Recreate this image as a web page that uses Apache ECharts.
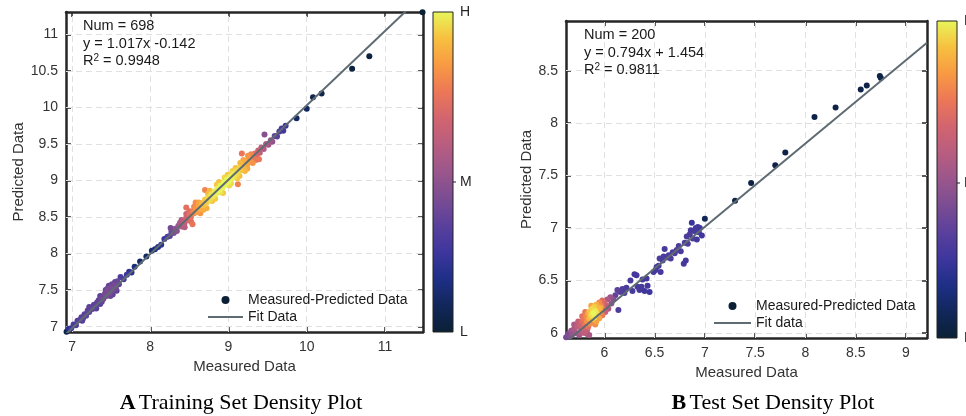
<!DOCTYPE html>
<html>
<head>
<meta charset="utf-8">
<title>Density plots</title>
<script src="https://cdn.jsdelivr.net/npm/echarts@6/dist/echarts.min.js"></script>
<style>
    html, body { margin: 0; padding: 0; background: #fff; }
    #chart { width: 966px; height: 416px; }
</style>
</head>
<body>
<div id="chart"></div>
<script>
// training set: measured, predicted, point density (0 sparse .. 1 densest)
var trainMeasured = [6.93,6.96,6.99,7.02,7.05,7.07,7.10,7.12,7.13,7.14,7.16,7.18,7.20,7.22,7.22,7.24,7.26,7.28,7.30,7.31,
    7.32,7.34,7.36,7.36,7.38,7.40,7.42,7.43,7.44,7.46,7.47,7.48,7.49,7.50,7.52,7.52,7.54,7.55,7.56,7.57,
    7.58,7.60,7.62,7.66,7.70,7.73,7.76,7.80,7.87,7.95,8.02,8.06,8.10,8.14,8.18,8.22,8.25,8.26,8.27,8.30,
    8.32,8.34,8.36,8.38,8.40,8.42,8.44,8.44,8.46,8.46,8.46,8.48,8.50,8.52,8.52,8.54,8.54,8.56,8.56,8.58,
    8.60,8.62,8.62,8.64,8.66,8.68,8.68,8.70,8.70,8.72,8.74,8.74,8.76,8.78,8.79,8.80,8.82,8.84,8.85,8.86,
    8.88,8.90,8.90,8.92,8.94,8.95,8.96,8.98,9.00,9.01,9.02,9.04,9.05,9.06,9.08,9.10,9.11,9.12,9.12,9.14,
    9.15,9.16,9.17,9.18,9.20,9.21,9.22,9.24,9.25,9.26,9.28,9.30,9.31,9.32,9.34,9.36,9.38,9.39,9.40,9.42,
    9.45,9.46,9.48,9.51,9.54,9.56,9.59,9.62,9.65,9.68,9.70,9.73,9.87,10.00,10.08,10.19,10.58,10.80,11.48,
    8.58,8.64,8.72,8.76,8.83,8.88,8.93,8.99,9.03,9.09,9.14,9.19,9.24,9.29,9.35,8.50,8.40,7.38,7.45,7.51];
var trainPredicted = [6.93,6.97,6.98,7.03,7.02,7.08,7.09,7.13,7.08,7.11,7.17,7.15,7.22,7.20,7.27,7.26,7.24,7.30,7.27,7.25,
    7.33,7.36,7.31,7.42,7.40,7.38,7.45,7.50,7.42,7.49,7.56,7.46,7.42,7.53,7.50,7.44,7.57,7.61,7.53,7.49,
    7.62,7.58,7.68,7.65,7.71,7.75,7.74,7.82,7.89,7.96,8.04,8.06,8.09,8.12,8.20,8.23,8.24,8.35,8.30,8.28,
    8.34,8.31,8.38,8.42,8.37,8.45,8.42,8.36,8.49,8.54,8.63,8.46,8.53,8.50,8.44,8.58,8.40,8.55,8.64,8.62,
    8.57,8.65,8.70,8.61,8.69,8.66,8.60,8.74,8.87,8.70,8.77,8.82,8.73,8.81,8.72,8.78,8.85,8.82,8.94,8.89,
    8.86,8.93,8.84,8.90,8.97,9.04,8.94,9.01,8.98,8.93,9.05,9.02,9.13,9.09,9.06,9.13,9.03,9.10,8.95,9.17,
    9.24,9.14,9.37,9.21,9.18,9.13,9.25,9.22,9.34,9.29,9.26,9.33,9.24,9.30,9.37,9.34,9.41,9.29,9.38,9.45,
    9.43,9.63,9.50,9.49,9.55,9.53,9.61,9.60,9.67,9.71,9.68,9.75,9.85,9.98,10.14,10.19,10.53,10.70,11.30,
    8.70,8.55,8.62,8.86,8.75,8.98,8.83,9.08,8.96,9.17,9.06,9.28,9.16,9.36,9.28,8.58,8.46,7.34,7.52,7.58];
var trainDensity = [0.05,0.20,0.25,0.30,0.30,0.32,0.33,0.33,0.32,0.34,0.34,0.35,0.35,0.36,0.33,0.35,0.36,0.35,0.34,0.32,
    0.35,0.36,0.33,0.33,0.38,0.40,0.40,0.38,0.42,0.42,0.36,0.42,0.37,0.42,0.41,0.35,0.40,0.36,0.40,0.35,
    0.38,0.36,0.30,0.28,0.25,0.22,0.20,0.15,0.10,0.10,0.12,0.15,0.18,0.20,0.25,0.30,0.33,0.40,0.38,0.42,
    0.46,0.45,0.50,0.55,0.55,0.60,0.62,0.58,0.66,0.65,0.72,0.68,0.72,0.74,0.70,0.76,0.74,0.80,0.78,0.82,
    0.84,0.86,0.85,0.88,0.90,0.92,0.87,0.93,0.78,0.94,0.95,0.90,0.96,0.97,0.92,0.98,0.98,0.99,0.93,0.99,
    1.00,1.00,0.96,1.00,1.00,0.95,1.00,1.00,1.00,0.96,0.99,0.99,0.94,0.98,0.97,0.96,0.93,0.95,0.78,0.94,
    0.90,0.92,0.75,0.90,0.88,0.90,0.87,0.85,0.82,0.83,0.80,0.77,0.82,0.74,0.70,0.68,0.64,0.75,0.62,0.60,
    0.56,0.45,0.55,0.52,0.50,0.47,0.35,0.32,0.30,0.28,0.27,0.25,0.10,0.10,0.05,0.05,0.02,0.02,0.00,
    0.80,0.82,0.88,0.90,0.93,0.92,0.93,0.93,0.95,0.92,0.91,0.86,0.86,0.78,0.74,0.70,0.55,0.36,0.40,0.38];

// test set
var testMeasured = [5.62,5.64,5.66,5.67,5.69,5.70,5.70,5.72,5.73,5.74,5.75,5.76,5.76,5.77,5.78,5.78,5.79,5.80,5.80,5.81,
    5.82,5.83,5.83,5.83,5.84,5.84,5.85,5.85,5.86,5.86,5.87,5.88,5.88,5.89,5.90,5.90,5.91,5.92,5.92,5.93,
    5.94,5.95,5.95,5.96,5.97,5.98,5.98,5.99,6.00,6.01,6.02,6.03,6.04,6.06,6.07,6.09,
    6.11,6.13,6.14,6.16,6.18,6.20,6.22,6.26,6.28,6.30,6.32,6.33,6.35,6.37,6.38,6.40,6.42,6.43,6.45,6.49,
    6.51,6.52,6.54,6.55,6.56,6.58,6.59,6.60,6.62,6.64,6.66,6.68,6.70,6.72,6.74,6.76,6.79,6.81,6.80,6.82,
    6.83,6.85,6.86,6.87,6.88,6.90,6.91,6.92,6.94,6.95,6.97,6.93,7.00,7.30,7.46,7.70,7.80,8.09,8.30,8.55,
    8.61,8.74,8.75,9.21,5.87,5.91,5.81,5.96];
var testPredicted = [5.96,5.99,5.97,6.02,5.99,6.04,6.08,6.00,6.06,6.11,5.98,6.08,6.00,6.02,6.11,6.16,6.05,6.13,6.00,6.08,
    6.16,6.03,6.11,5.99,6.19,6.06,6.14,5.98,6.21,6.09,6.17,6.23,6.13,6.19,6.25,6.15,6.21,6.11,6.27,6.18,
    6.23,6.29,6.14,6.20,6.26,6.31,6.17,6.23,6.29,6.20,6.26,6.32,6.23,6.34,6.28,6.32,
    6.36,6.41,6.22,6.39,6.42,6.38,6.43,6.50,6.40,6.56,6.55,6.44,6.41,6.44,6.51,6.40,6.52,6.45,6.39,6.58,
    6.60,6.63,6.64,6.71,6.58,6.69,6.73,6.80,6.72,6.74,6.71,6.77,6.76,6.79,6.83,6.78,6.66,6.69,6.86,6.92,
    6.85,6.94,6.98,7.05,6.90,6.97,7.00,6.89,6.96,7.00,6.93,7.01,7.09,7.26,7.43,7.60,7.72,8.06,8.15,8.32,
    8.36,8.45,8.43,8.97,6.26,6.08,6.20,6.24];
var testDensity = [0.40,0.42,0.45,0.50,0.50,0.55,0.55,0.52,0.60,0.62,0.50,0.65,0.55,0.60,0.70,0.72,0.68,0.75,0.60,0.75,
    0.80,0.62,0.82,0.55,0.88,0.72,0.90,0.55,0.93,0.80,0.96,0.95,0.92,1.00,0.93,0.98,0.98,0.85,0.88,0.95,
    0.90,0.80,0.85,0.85,0.78,0.70,0.75,0.70,0.65,0.62,0.60,0.55,0.55,0.50,0.48,0.45,
    0.36,0.34,0.30,0.32,0.30,0.30,0.29,0.28,0.28,0.27,0.27,0.28,0.27,0.28,0.27,0.26,0.27,0.27,0.25,0.28,
    0.28,0.28,0.28,0.29,0.28,0.29,0.29,0.28,0.30,0.30,0.30,0.30,0.30,0.30,0.30,0.29,0.27,0.27,0.30,0.30,
    0.30,0.29,0.28,0.24,0.29,0.28,0.27,0.27,0.27,0.26,0.26,0.26,0.08,0.04,0.04,0.04,0.04,0.04,0.04,0.04,
    0.04,0.04,0.04,0.02,0.85,0.80,0.75,0.88];

// fitted lines, end points across each plot
var trainFitX = [6.923, 11.486];
var trainFitY = [6.899, 11.539];
var testFitX = [5.619, 9.209];
var testFitY = [5.915, 8.766];

// tick labels
var trainXTicks = [7, 8, 9, 10, 11];
var trainYTicks = [7, 7.5, 8, 8.5, 9, 9.5, 10, 10.5, 11];
var testXTicks = [6, 6.5, 7, 7.5, 8, 8.5, 9];
var testYTicks = [6, 6.5, 7, 7.5, 8, 8.5];

var densityColors = ['#0b2035', '#11275a', '#1e2f86', '#3d369d', '#5a409c', '#7a4c93', '#9a568c',
    '#b85d80', '#d2646f', '#ec7757', '#f89a43', '#f7c03f', '#e8f65a'];

var FONT = 'Liberation Sans';
var DARK = '#262626';
var FIT = '#5f6b73';

function toPoints(xs, ys, ds) {
    var pts = xs.map(function (x, i) { return [x, ys[i], ds[i]]; });
    pts.sort(function (a, b) { return a[2] - b[2]; }); // dense points on top
    return pts;
}

function pairs(xs, ys) {
    return xs.map(function (x, i) { return [x, ys[i]]; });
}

function makeAxis(grid, pos, min, max, ticks, name, nameGap, main) {
    var ax = {
        type: 'value', gridIndex: grid, position: pos, min: min, max: max,
        axisLine: {show: true, onZero: false, lineStyle: {color: DARK, width: 2.5}},
        axisTick: {show: true, inside: true, length: 5, customValues: ticks, lineStyle: {color: DARK, width: 1.5}},
        axisLabel: {show: main, customValues: ticks, margin: 8, color: '#333', fontSize: 14, fontFamily: FONT},
        splitLine: {show: false}
    };
    if (main) {
        ax.name = name;
        ax.nameLocation = 'middle';
        ax.nameGap = nameGap;
        ax.nameTextStyle = {color: '#333', fontSize: 15, fontFamily: FONT};
    }
    return ax;
}

// dashed grid drawn behind the points
function gridLines(xi, xt, yt) {
    return {
        type: 'line', xAxisIndex: xi, yAxisIndex: xi, data: [], z: 1, silent: true,
        markLine: {
            z: 1, silent: true, animation: false, symbol: ['none', 'none'], label: {show: false},
            lineStyle: {color: '#e0e0e0', type: [6, 4], width: 1},
            emphasis: {disabled: true},
            data: xt.map(function (v) { return {xAxis: v}; }).concat(yt.map(function (v) { return {yAxis: v}; }))
        }
    };
}

function colorBar(x, y, h, mY) {
    var stops = densityColors.slice().reverse().map(function (c, i, arr) {
        return {offset: i / (arr.length - 1), color: c};
    });
    return [
        {type: 'rect', shape: {x: x, y: y, width: 20, height: h}, z: 10,
            style: {fill: new echarts.graphic.LinearGradient(0, 0, 0, 1, stops), stroke: '#222', lineWidth: 1}},
        {type: 'line', shape: {x1: x + 20, y1: mY, x2: x + 23, y2: mY}, z: 10, style: {stroke: '#222', lineWidth: 1}},
        {type: 'text', x: x + 27, y: y, z: 10, style: {text: 'H', fill: DARK, font: '14px ' + FONT, verticalAlign: 'middle'}},
        {type: 'text', x: x + 27, y: mY, z: 10, style: {text: 'M', fill: DARK, font: '14px ' + FONT, verticalAlign: 'middle'}},
        {type: 'text', x: x + 27, y: y + h, z: 10, style: {text: 'L', fill: DARK, font: '14px ' + FONT, verticalAlign: 'middle'}}
    ];
}

function note(x, y, lines) {
    var rich = {n: {fontSize: 14.5, fontFamily: FONT, color: '#1a1a1a'}, s: {fontSize: 10, fontFamily: FONT, color: '#1a1a1a', verticalAlign: 'top'}};
    return lines.map(function (t, i) {
        return {type: 'text', x: x, y: y + i * 17.5, z: 10,
            style: {text: t, rich: rich, verticalAlign: 'middle', fill: '#1a1a1a', font: '14.5px ' + FONT}};
    });
}

function caption(cx, y, letter, text) {
    return {type: 'text', x: cx, y: y, z: 10,
        style: {text: '{b|' + letter + '} {r|' + text + '}', align: 'center', verticalAlign: 'middle',
            rich: {b: {fontSize: 22, fontWeight: 'bold', fontFamily: 'Liberation Serif', color: '#111'},
                   r: {fontSize: 22, fontFamily: 'Liberation Serif', color: '#111'}}}};
}

function legendFor(left, top, gap, width, fitName) {
    return {
        orient: 'vertical', left: left, top: top, padding: 0, itemWidth: width, itemHeight: 8, itemGap: gap,
        data: [
            {name: 'Measured-Predicted Data', icon: 'circle', itemStyle: {color: '#0b2035', opacity: 1}},
            {name: fitName, itemStyle: {opacity: 0}}
        ],
        textStyle: {fontSize: 14, fontFamily: FONT, color: '#1a1a1a'}
    };
}

var myChart = echarts.init(document.getElementById('chart'));

myChart.setOption({
    animation: false,
    grid: [
        {left: 66, top: 12, width: 357, height: 320},
        {left: 566, top: 21, width: 361, height: 317}
    ],
    xAxis: [
        makeAxis(0, 'bottom', 6.923, 11.486, trainXTicks, 'Measured Data', 27, true),
        makeAxis(0, 'top', 6.923, 11.486, trainXTicks, '', 0, false),
        makeAxis(1, 'bottom', 5.619, 9.209, testXTicks, 'Measured Data', 26, true),
        makeAxis(1, 'top', 5.619, 9.209, testXTicks, '', 0, false)
    ],
    yAxis: [
        makeAxis(0, 'left', 6.927, 11.305, trainYTicks, 'Predicted Data', 40, true),
        makeAxis(0, 'right', 6.927, 11.305, trainYTicks, '', 0, false),
        makeAxis(1, 'left', 5.952, 8.974, testYTicks, 'Predicted Data', 31, true),
        makeAxis(1, 'right', 5.952, 8.974, testYTicks, '', 0, false)
    ],
    visualMap: {
        show: false, type: 'continuous', seriesIndex: [1, 4], dimension: 2, min: 0, max: 1,
        inRange: {color: densityColors}
    },
    legend: [
        legendFor(207, 293, 3, 35, 'Fit Data'),
        legendFor(713, 299, 3, 37, 'Fit data')
    ],
    graphic: [].concat(
        colorBar(433, 12, 320, 182),
        colorBar(937, 21, 317, 183),
        note(83, 26, ['Num = 698', 'y = 1.017x -0.142', '{n|R}{s|2}{n| = 0.9948}']),
        note(584, 35, ['Num = 200', 'y = 0.794x + 1.454', '{n|R}{s|2}{n| = 0.9811}']),
        [caption(241, 403, 'A', 'Training Set Density Plot'), caption(773, 403, 'B', 'Test Set Density Plot')]
    ),
    series: [
        gridLines(0, trainXTicks, trainYTicks),
        {
            name: 'Measured-Predicted Data', type: 'scatter', xAxisIndex: 0, yAxisIndex: 0, z: 2,
            symbolSize: 6, itemStyle: {color: '#0b2035', opacity: 1},
            data: toPoints(trainMeasured, trainPredicted, trainDensity)
        },
        {
            name: 'Fit Data', type: 'line', xAxisIndex: 0, yAxisIndex: 0, z: 3, symbol: 'none',
            lineStyle: {color: FIT, width: 2}, itemStyle: {color: FIT},
            data: pairs(trainFitX, trainFitY)
        },
        gridLines(2, testXTicks, testYTicks),
        {
            name: 'Measured-Predicted Data', type: 'scatter', xAxisIndex: 2, yAxisIndex: 2, z: 2,
            symbolSize: 6, itemStyle: {color: '#0b2035', opacity: 1},
            data: toPoints(testMeasured, testPredicted, testDensity)
        },
        {
            name: 'Fit data', type: 'line', xAxisIndex: 2, yAxisIndex: 2, z: 3, symbol: 'none',
            lineStyle: {color: FIT, width: 2}, itemStyle: {color: FIT},
            data: pairs(testFitX, testFitY)
        }
    ]
});
</script>
</body>
</html>
